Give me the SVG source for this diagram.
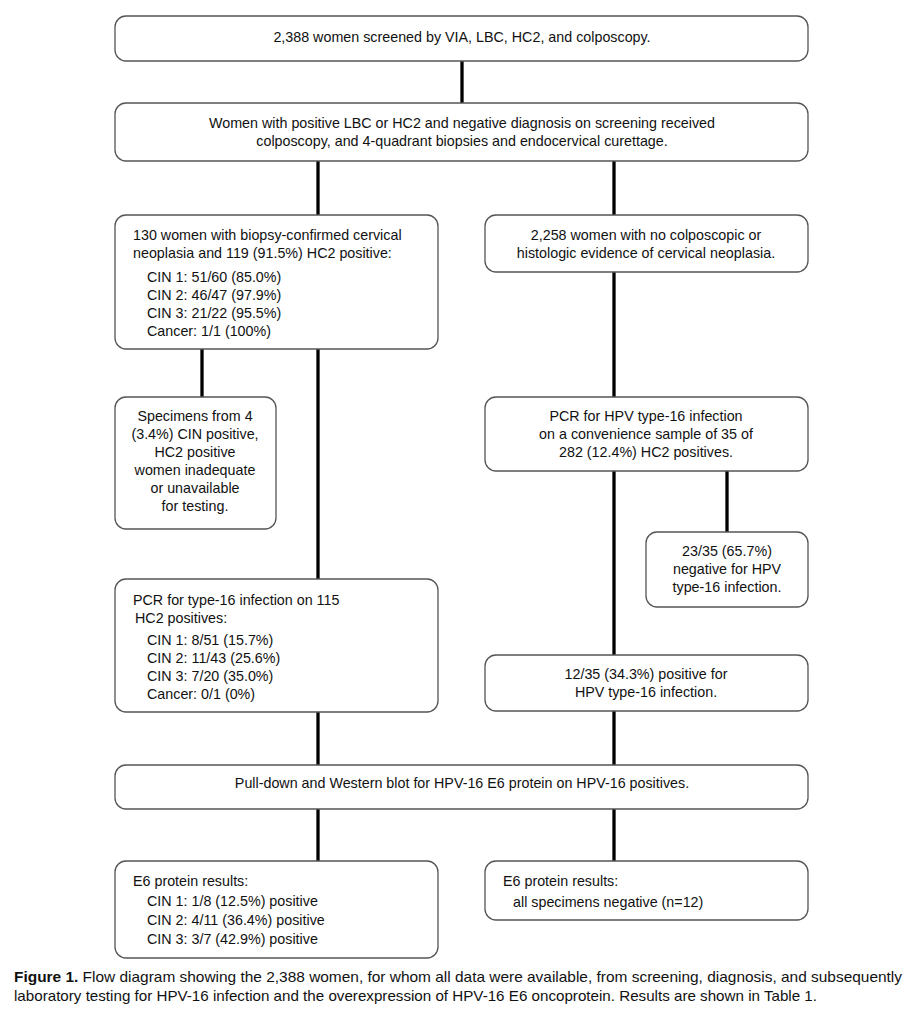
<svg xmlns="http://www.w3.org/2000/svg" width="918" height="1024" viewBox="0 0 918 1024">
<style>
.box{fill:#fff;stroke:#555;stroke-width:1.3}
.t{font-family:"Liberation Sans",Arial,sans-serif;font-size:14.3px;fill:#111}
.c{text-anchor:middle}
.ln{stroke:#000;stroke-width:3.3;fill:none}
.cap{font-family:"Liberation Sans",Arial,sans-serif;font-size:15px;fill:#111}
</style>
<rect width="918" height="1024" fill="#fff"/>
<g id="connectors">
<line class="ln" x1="462" y1="61" x2="462" y2="103"/>
<line class="ln" x1="318" y1="161" x2="318" y2="215"/>
<line class="ln" x1="614" y1="161" x2="614" y2="215"/>
<line class="ln" x1="202" y1="349" x2="202" y2="397"/>
<line class="ln" x1="318" y1="349" x2="318" y2="579"/>
<line class="ln" x1="614" y1="272" x2="614" y2="397"/>
<line class="ln" x1="614" y1="471" x2="614" y2="655"/>
<line class="ln" x1="727" y1="471" x2="727" y2="532"/>
<line class="ln" x1="318" y1="712" x2="318" y2="765"/>
<line class="ln" x1="614" y1="711" x2="614" y2="765"/>
<line class="ln" x1="318" y1="809" x2="318" y2="861"/>
<line class="ln" x1="614" y1="809" x2="614" y2="861"/>
</g>
<g id="n1">
<rect class="box" x="115" y="16" width="693" height="45" rx="11"/>
<text class="t c" x="462" y="42">2,388 women screened by VIA, LBC, HC2, and colposcopy.</text>
</g>
<g id="n2">
<rect class="box" x="115" y="103" width="693" height="58" rx="11"/>
<text class="t c" x="462" y="128">Women with positive LBC or HC2 and negative diagnosis on screening received</text>
<text class="t c" x="462" y="146">colposcopy, and 4-quadrant biopsies and endocervical curettage.</text>
</g>
<g id="n3">
<rect class="box" x="115" y="215" width="323" height="134" rx="11"/>
<text class="t" x="133" y="240">130 women with biopsy-confirmed cervical</text>
<text class="t" x="133" y="258">neoplasia and 119 (91.5%) HC2 positive:</text>
<text class="t" x="147" y="282">CIN 1: 51/60 (85.0%)</text>
<text class="t" x="147" y="300">CIN 2: 46/47 (97.9%)</text>
<text class="t" x="147" y="318">CIN 3: 21/22 (95.5%)</text>
<text class="t" x="147" y="336">Cancer: 1/1 (100%)</text>
</g>
<g id="n4">
<rect class="box" x="485" y="215" width="323" height="57" rx="11"/>
<text class="t c" x="646" y="240">2,258 women with no colposcopic or</text>
<text class="t c" x="646" y="258">histologic evidence of cervical neoplasia.</text>
</g>
<g id="n5">
<rect class="box" x="115" y="397" width="161" height="132" rx="11"/>
<text class="t c" x="195" y="421">Specimens from 4</text>
<text class="t c" x="195" y="439">(3.4%) CIN positive,</text>
<text class="t c" x="195" y="457">HC2 positive</text>
<text class="t c" x="195" y="475">women inadequate</text>
<text class="t c" x="195" y="493">or unavailable</text>
<text class="t c" x="195" y="511">for testing.</text>
</g>
<g id="n6">
<rect class="box" x="485" y="397" width="323" height="74" rx="11"/>
<text class="t c" x="646" y="421">PCR for HPV type-16 infection</text>
<text class="t c" x="646" y="439">on a convenience sample of 35 of</text>
<text class="t c" x="646" y="457">282 (12.4%) HC2 positives.</text>
</g>
<g id="n7">
<rect class="box" x="646" y="532" width="162" height="75" rx="11"/>
<text class="t c" x="727" y="556">23/35 (65.7%)</text>
<text class="t c" x="727" y="574">negative for HPV</text>
<text class="t c" x="727" y="592">type-16 infection.</text>
</g>
<g id="n8">
<rect class="box" x="115" y="579" width="323" height="133" rx="11"/>
<text class="t" x="133" y="605">PCR for type-16 infection on 115</text>
<text class="t" x="135" y="623">HC2 positives:</text>
<text class="t" x="147" y="645">CIN 1: 8/51 (15.7%)</text>
<text class="t" x="147" y="663">CIN 2: 11/43 (25.6%)</text>
<text class="t" x="147" y="681">CIN 3: 7/20 (35.0%)</text>
<text class="t" x="147" y="699">Cancer: 0/1 (0%)</text>
</g>
<g id="n9">
<rect class="box" x="485" y="655" width="323" height="56" rx="11"/>
<text class="t c" x="646" y="679">12/35 (34.3%) positive for</text>
<text class="t c" x="646" y="697">HPV type-16 infection.</text>
</g>
<g id="n10">
<rect class="box" x="115" y="765" width="693" height="44" rx="11"/>
<text class="t c" x="462" y="788">Pull-down and Western blot for HPV-16 E6 protein on HPV-16 positives.</text>
</g>
<g id="n11">
<rect class="box" x="115" y="861" width="323" height="97" rx="11"/>
<text class="t" x="133" y="886">E6 protein results:</text>
<text class="t" x="147" y="906">CIN 1: 1/8 (12.5%) positive</text>
<text class="t" x="147" y="925">CIN 2: 4/11 (36.4%) positive</text>
<text class="t" x="147" y="944">CIN 3: 3/7 (42.9%) positive</text>
</g>
<g id="n12">
<rect class="box" x="485" y="861" width="323" height="59" rx="11"/>
<text class="t" x="503" y="886">E6 protein results:</text>
<text class="t" x="513" y="907">all specimens negative (n=12)</text>
</g>
<g id="caption">
<text class="cap" x="14" y="982" textLength="888" lengthAdjust="spacingAndGlyphs"><tspan font-weight="bold">Figure 1.</tspan> Flow diagram showing the 2,388 women, for whom all data were available, from screening, diagnosis, and subsequently</text>
<text class="cap" x="14" y="1001" textLength="803" lengthAdjust="spacingAndGlyphs">laboratory testing for HPV-16 infection and the overexpression of HPV-16 E6 oncoprotein. Results are shown in Table 1.</text>
</g>
</svg>
